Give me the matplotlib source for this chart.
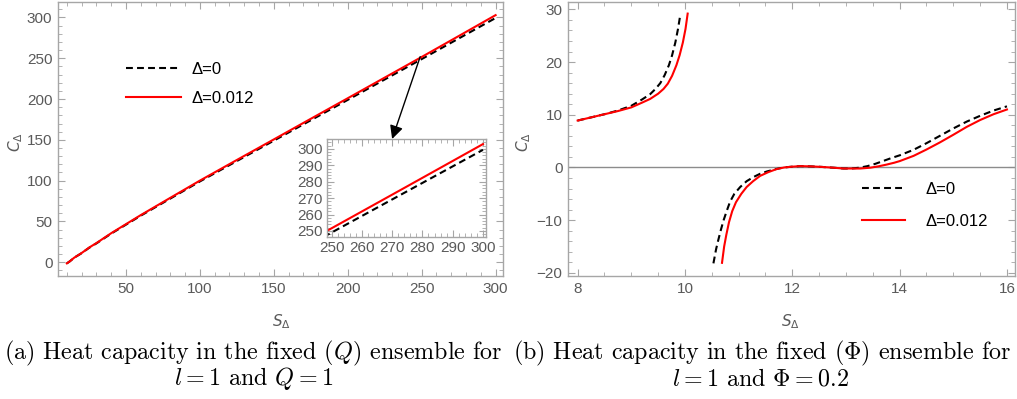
import matplotlib
matplotlib.use("Agg")
import matplotlib.pyplot as plt
from matplotlib.ticker import MultipleLocator

plt.rcParams['mathtext.fontset'] = 'cm'
plt.rcParams['font.family'] = ['Liberation Sans', 'DejaVu Sans']

# ---------------- data ----------------
# (a) fixed (Q) ensemble
S_a = [10, 12, 15, 20, 25, 30, 40, 50, 60, 80, 100, 125, 150, 175, 200, 225, 250, 275, 300]
C_a_0 = [-1.5, 1.0, 5.5, 11.0, 17.5, 23.0, 35.0, 46.0, 57.0, 78.0, 99.0, 124.0, 149.0, 174.0,
         199.0, 224.0, 249.0, 274.2, 299.4]
C_a_1 = [-1.5, 1.0, 5.5, 11.2, 17.8, 23.4, 35.5, 46.6, 57.7, 78.9, 100.0, 125.3, 150.5, 175.8,
         201.0, 226.3, 251.6, 277.2, 302.9]

# (b) fixed (Phi) ensemble: branch 1 (small S) and branch 2 (large S)
S_b0_1 = [8.0, 8.25, 8.5, 8.75, 9.0, 9.2, 9.35, 9.45, 9.54, 9.62, 9.7, 9.76, 9.82, 9.87, 9.91]
C_b0_1 = [8.9, 9.5, 10.1, 10.8, 11.7, 12.9, 13.9, 14.9, 16.0, 17.5, 19.4, 21.3, 23.7, 26.3, 28.8]
S_b1_1 = [8.0, 8.25, 8.5, 8.75, 9.0, 9.2, 9.35, 9.5, 9.6, 9.68, 9.76, 9.84, 9.9, 9.96, 10.01, 10.05]
C_b1_1 = [8.9, 9.5, 10.1, 10.7, 11.4, 12.3, 13.0, 14.0, 14.9, 15.9, 17.4, 19.4, 21.3, 23.7, 26.3, 29.2]

S_b0_2 = [10.53, 10.58, 10.62, 10.67, 10.72, 10.78, 10.84, 10.92, 11.03, 11.15, 11.28, 11.4, 11.53,
          11.7, 11.84, 12.0, 12.15, 12.35, 12.55, 12.77, 12.95, 13.1, 13.25, 13.4, 13.55, 13.7,
          13.85, 14.0, 14.26, 14.5, 14.75, 15.0, 15.25, 15.5, 15.75, 16.0]
C_b0_2 = [-18.2, -15.5, -13.8, -11.8, -10.0, -8.2, -6.5, -5.0, -3.7, -2.6, -1.8, -1.2, -0.75,
          -0.3, 0.0, 0.15, 0.25, 0.2, 0.1, -0.05, -0.2, -0.2, -0.05, 0.25, 0.7, 1.25,
          1.8, 2.3, 3.35, 4.6, 6.0, 7.4, 8.7, 9.8, 10.8, 11.6]
S_b1_2 = [10.69, 10.73, 10.77, 10.82, 10.88, 10.95, 11.05, 11.15, 11.27, 11.4, 11.55, 11.71,
          11.85, 12.0, 12.15, 12.35, 12.55, 12.77, 12.95, 13.1, 13.27, 13.45, 13.6, 13.76, 13.9,
          14.0, 14.26, 14.5, 14.75, 15.0, 15.25, 15.5, 15.75, 16.0]
C_b1_2 = [-18.1, -15.0, -12.8, -10.4, -8.3, -6.6, -5.0, -3.7, -2.6, -1.6, -0.9, -0.3,
          0.0, 0.15, 0.25, 0.2, 0.1, -0.05, -0.2, -0.2, -0.2, -0.05, 0.2, 0.55, 0.9,
          1.2, 2.2, 3.4, 4.75, 6.2, 7.7, 9.0, 10.1, 11.0]

labels = ["Δ=0", "Δ=0.012"]
captions_a = [r"(a) Heat capacity in the fixed $(Q)$ ensemble for", r"$l=1$ and $Q=1$"]
captions_b = [r"(b) Heat capacity in the fixed $(\Phi)$ ensemble for", r"$l=1$ and $\Phi=0.2$"]

# ---------------- style ----------------
W, H = 1017, 399
fig = plt.figure(figsize=(W / 100, H / 100), dpi=100)
FRAME = '#a6a6a6'
TICKC = '#5a5a5a'
dash = (3.3, 2.0)
lw = 1.5


def fax(x0, y0, x1, y1):
    return fig.add_axes([x0 / W, 1 - y1 / H, (x1 - x0) / W, (y1 - y0) / H])


def style(ax, fs=11):
    for s in ax.spines.values():
        s.set_color(FRAME)
        s.set_linewidth(1.0)
    ax.tick_params(which='both', direction='in', top=True, right=True, color=FRAME,
                   labelcolor=TICKC, labelsize=fs, pad=4)
    ax.tick_params(which='major', length=5, width=0.8)
    ax.tick_params(which='minor', length=2.8, width=0.6)


# ---------------- panel (a) ----------------
ax1 = fax(58, 2, 503, 276)
ax1.plot(S_a, C_a_0, color='black', lw=lw, dashes=dash, label=labels[0])
ax1.plot(S_a, C_a_1, color='red', lw=lw, label=labels[1])
ax1.set_xlim(4, 305)
ax1.set_ylim(-17, 319)
ax1.xaxis.set_major_locator(MultipleLocator(50))
ax1.xaxis.set_minor_locator(MultipleLocator(10))
ax1.yaxis.set_major_locator(MultipleLocator(50))
ax1.yaxis.set_minor_locator(MultipleLocator(10))
ax1.set_xticks([50, 100, 150, 200, 250, 300])
style(ax1)
leg1 = ax1.legend(loc='upper left', bbox_to_anchor=(126 / W, 1 - 62 / H), bbox_transform=fig.transFigure,
                  frameon=False, prop={'size': 12}, handlelength=3.3,
                  handletextpad=0.6, labelspacing=0.85, borderpad=0, borderaxespad=0)
ax1.annotate('', xy=(230, 151), xytext=(249, 252),
             arrowprops=dict(arrowstyle='-|>', color='black', lw=1.0, mutation_scale=20,
                             shrinkA=0, shrinkB=0))
ax1.set_ylabel(r"$C_{\Delta}$", color=TICKC, fontsize=11, math_fontfamily='dejavusans')
ax1.yaxis.set_label_coords((25 - 58) / 445, 1 - (142 - 2) / 274)
ax1.set_xlabel(r"$S_{\Delta}$", color=TICKC, fontsize=11, math_fontfamily='dejavusans')
ax1.xaxis.set_label_coords((281 - 58) / 445, -(312 - 276) / 274)

# inset
axi = fax(327, 139, 486, 237)
axi.plot(S_a, C_a_0, color='black', lw=lw, dashes=dash)
axi.plot(S_a, C_a_1, color='red', lw=lw)
axi.set_xlim(248.5, 301)
axi.set_ylim(246.3, 306)
axi.xaxis.set_major_locator(MultipleLocator(10))
axi.xaxis.set_minor_locator(MultipleLocator(2))
axi.yaxis.set_major_locator(MultipleLocator(10))
axi.yaxis.set_minor_locator(MultipleLocator(2))
style(axi)
axi.tick_params(which='both', pad=3)

# ---------------- panel (b) ----------------
ax2 = fax(568, 2, 1015, 276)
ax2.axhline(0, color='#8c8c8c', lw=1.0)
ax2.plot(S_b0_1, C_b0_1, color='black', lw=lw, dashes=dash, label=labels[0])
ax2.plot(S_b1_1, C_b1_1, color='red', lw=lw, label=labels[1])
ax2.plot(S_b0_2, C_b0_2, color='black', lw=lw, dashes=dash)
ax2.plot(S_b1_2, C_b1_2, color='red', lw=lw)
ax2.set_xlim(7.82, 16.15)
ax2.set_ylim(-20.6, 31.4)
ax2.xaxis.set_major_locator(MultipleLocator(2))
ax2.xaxis.set_minor_locator(MultipleLocator(0.5))
ax2.yaxis.set_major_locator(MultipleLocator(10))
ax2.yaxis.set_minor_locator(MultipleLocator(2))
style(ax2)
leg2 = ax2.legend(loc='upper left', bbox_to_anchor=(862 / W, 1 - 182 / H), bbox_transform=fig.transFigure,
                  frameon=False, prop={'size': 12}, handlelength=2.6,
                  handletextpad=1.2, labelspacing=1.0, borderpad=0, borderaxespad=0)
ax2.set_ylabel(r"$C_{\Delta}$", color=TICKC, fontsize=11, math_fontfamily='dejavusans')
ax2.yaxis.set_label_coords((533 - 568) / 447, 1 - (142 - 2) / 274)
ax2.set_xlabel(r"$S_{\Delta}$", color=TICKC, fontsize=11, math_fontfamily='dejavusans')
ax2.xaxis.set_label_coords((790 - 568) / 447, -(312 - 276) / 274)

# ---------------- captions ----------------
cap = dict(family='cmr10', fontsize=17.3, color='black', va='center')
fig.text(4 / W, 1 - 353 / H, captions_a[0], ha='left', **cap)
fig.text(254 / W, 1 - 379 / H, captions_a[1], ha='center', **cap)
fig.text(513 / W, 1 - 353 / H, captions_b[0], ha='left', **cap)
fig.text(760 / W, 1 - 379 / H, captions_b[1], ha='center', **cap)

fig.savefig('out.png', dpi=100)
